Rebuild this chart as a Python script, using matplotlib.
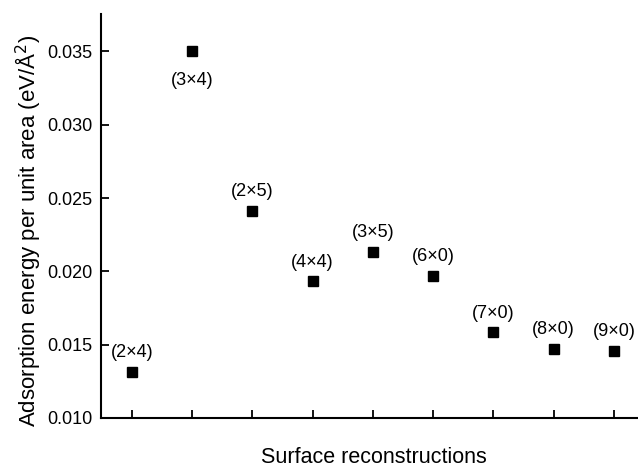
import matplotlib
matplotlib.use("Agg")
import matplotlib.pyplot as plt

plt.rcParams['font.family'] = ['Liberation Sans', 'DejaVu Sans']

labels = ["(2×4)", "(3×4)", "(2×5)", "(4×4)", "(3×5)", "(6×0)", "(7×0)", "(8×0)", "(9×0)"]
values = [0.01316, 0.0350, 0.02414, 0.01931, 0.02129, 0.01968, 0.01583, 0.01469, 0.01458]
label_below = [False, True, False, False, False, False, False, False, False]
yticks = [0.010, 0.015, 0.020, 0.025, 0.030, 0.035]

fig = plt.figure(figsize=(6.38, 4.67), dpi=100)
ax = fig.add_axes([0.158, 0.105, 0.842, 0.865])
x = list(range(1, len(values) + 1))
ax.plot(x, values, 's', color='black', ms=7, linestyle='none')

for xi, v, lab, below in zip(x, values, labels, label_below):
    if below:
        ax.annotate(lab, (xi, v), xytext=(0, -21), textcoords='offset points',
                    ha='center', va='center', fontsize=13)
    else:
        ax.annotate(lab, (xi, v), xytext=(0, 14), textcoords='offset points',
                    ha='center', va='center', fontsize=13)

ax.set_xlim(0.485, 9.40)
ax.set_ylim(0.010, 0.03755)
ax.set_xticks(x)
ax.set_xticklabels([])
ax.set_yticks(yticks)
ax.set_yticklabels([f"{t:.3f}" for t in yticks])
ax.tick_params(axis='both', direction='in', length=6, width=1.3, labelsize=13)
ax.tick_params(axis='y', pad=6)
for s in ['top', 'right']:
    ax.spines[s].set_visible(False)
for s in ['left', 'bottom']:
    ax.spines[s].set_linewidth(1.5)

ax.set_xlabel("Surface reconstructions", fontsize=15.5)
ax.xaxis.set_label_coords(0.508, -0.097)
ax.xaxis.label.set_va('center')
ax.set_ylabel("Adsorption energy per unit area (eV/Å$^2$)", fontsize=16)
ax.yaxis.set_label_coords(-0.136, 0.463)
ax.yaxis.label.set_va('center')
ax.yaxis.label.set_ha('center')

fig.savefig("out.png", dpi=100)
